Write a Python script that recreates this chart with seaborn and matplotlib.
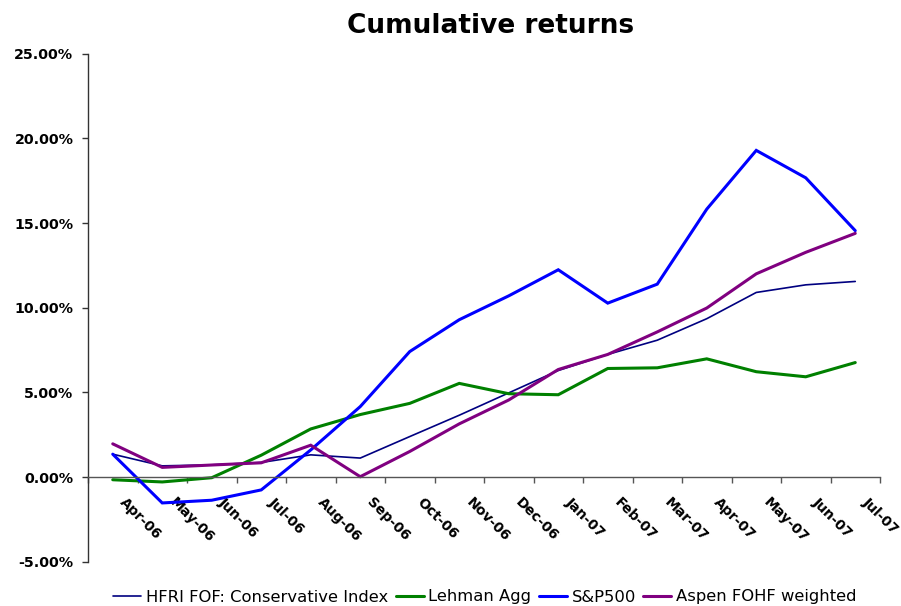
import matplotlib
matplotlib.use("Agg")
import matplotlib.pyplot as plt
import matplotlib.transforms as mtransforms
import seaborn as sns
import pandas as pd
import numpy as np

months = ["Apr-06", "May-06", "Jun-06", "Jul-06", "Aug-06", "Sep-06", "Oct-06", "Nov-06",
          "Dec-06", "Jan-07", "Feb-07", "Mar-07", "Apr-07", "May-07", "Jun-07", "Jul-07"]

hfri = [1.35, 0.66, 0.72, 0.86, 1.31, 1.12, 2.39, 3.65, 4.97, 6.29, 7.24, 8.08, 9.35, 10.90, 11.35, 11.55]
lehman = [-0.16, -0.29, -0.04, 1.29, 2.84, 3.69, 4.35, 5.53, 4.92, 4.86, 6.41, 6.45, 6.98, 6.22, 5.92, 6.76]
sp500 = [1.35, -1.53, -1.37, -0.76, 1.60, 4.16, 7.41, 9.29, 10.70, 12.24, 10.27, 11.39, 15.82, 19.29, 17.67, 14.55]
aspen = [1.96, 0.57, 0.71, 0.84, 1.88, 0.02, 1.51, 3.14, 4.55, 6.35, 7.24, 8.57, 9.98, 12.00, 13.27, 14.39]

series_names = ["HFRI FOF: Conservative Index", "Lehman Agg", "S&P500", "Aspen FOHF weighted"]
series_values = [hfri, lehman, sp500, aspen]
colors = ["#000080", "#008000", "#0000FF", "#800080"]
widths = [1.2, 2.2, 2.2, 2.2]

rows = []
for name, vals in zip(series_names, series_values):
    for i, v in enumerate(vals):
        rows.append({"pos": i, "month": months[i], "value": v / 100.0, "series": name})
df = pd.DataFrame(rows)

sns.set_style("white")
plt.rcParams["font.family"] = ["DejaVu Sans"]
plt.rcParams["text.color"] = "black"
plt.rcParams["xtick.color"] = "black"
plt.rcParams["ytick.color"] = "black"
plt.rcParams["axes.labelcolor"] = "black"

fig = plt.figure(figsize=(9.01, 6.06), dpi=100)
ax = fig.add_axes([88 / 901, 1 - 561.7 / 606, (880 - 88) / 901, (561.7 - 53.7) / 606])

sns.lineplot(data=df, x="pos", y="value", hue="series", hue_order=series_names,
             palette=colors, ax=ax, legend=False, estimator=None, sort=False)
for line, lw in zip(ax.get_lines(), widths):
    line.set_linewidth(lw)
    line.set_solid_joinstyle("miter")

ax.set_xlim(-0.5, len(months) - 0.5)
ax.set_ylim(-0.05, 0.25)
ax.set_xlabel("")
ax.set_ylabel("")

# y axis
yt = [-0.05, 0.0, 0.05, 0.10, 0.15, 0.20, 0.25]
ax.set_yticks(yt)
ax.set_yticklabels([f"{v*100:.2f}%" for v in yt], fontsize=10.3, fontweight="bold")
ax.tick_params(axis="y", direction="out", length=4, width=1, color="#333333", pad=6.5, left=True)

for s in ["top", "right"]:
    ax.spines[s].set_visible(False)
ax.spines["left"].set_color("#333333")
ax.spines["left"].set_linewidth(1)
ax.spines["bottom"].set_position(("data", 0))
ax.spines["bottom"].set_color("#555555")
ax.spines["bottom"].set_linewidth(1)

# x axis: ticks at category boundaries, labels at centers
ax.set_xticks(np.arange(len(months)))
ax.set_xticklabels(months, fontsize=10, fontweight="bold")
ax.set_xticks(np.arange(len(months) + 1) - 0.5, minor=True)
ax.tick_params(axis="x", which="major", length=0, pad=13)
ax.tick_params(axis="x", which="minor", direction="out", length=4, width=1, color="#555555", bottom=True)
offset = mtransforms.ScaledTranslation(14 / 100, 0, fig.dpi_scale_trans)
for lab in ax.get_xticklabels():
    lab.set_rotation(-45)
    lab.set_rotation_mode("anchor")
    lab.set_ha("left")
    lab.set_va("top")
    lab.set_transform(lab.get_transform() + offset)

fig.text(491 / 901, 1 - 33 / 606, "Cumulative returns", ha="center", va="baseline",
         fontsize=19, fontweight="bold")

handles = [plt.Line2D([], [], color=c, lw=lw) for c, lw in zip(colors, widths)]
leg = fig.legend(handles, series_names, loc="center", bbox_to_anchor=(485 / 901, 1 - 597 / 606),
                 ncol=4, frameon=False, handlelength=1.7, handletextpad=0.3, columnspacing=0.45,
                 prop={"family": "DejaVu Sans", "size": 11.8})

fig.savefig("out.png", dpi=100, facecolor="white")
